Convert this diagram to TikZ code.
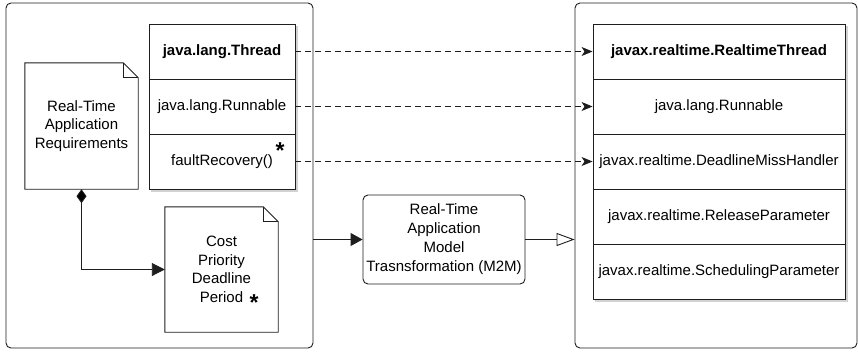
\documentclass[tikz,border=0pt]{standalone}
\usepackage{fontspec}
\setmainfont{Liberation Sans}
\usetikzlibrary{arrows.meta,shadows,fit,backgrounds}
\definecolor{lc}{HTML}{1E1E1E}
\tikzset{
  txt/.style={font=\fontsize{15}{18.5}\selectfont, align=center, text=black},
  comp/.style={txt, draw=lc, fill=white, line width=0.9pt, minimum height=55pt, inner sep=0pt},
  lcomp/.style={comp, minimum width=146pt},
  rcomp/.style={comp, minimum width=252pt},
  container/.style={draw=lc, line width=0.9pt, rounded corners=5pt, inner sep=0pt},
  notebox/.style={txt, inner sep=0pt, minimum width=113pt},
  notepath/.style={draw=lc, line width=0.9pt, fill=white},
  conn/.style={draw=lc, line width=0.9pt},
  dashconn/.style={conn, dash pattern=on 6pt off 4pt, -{Stealth[length=11pt,width=9pt,inset=3pt]}},
  shadowbox/.style={inner sep=0pt, fill=white, drop shadow={shadow xshift=2.5pt, shadow yshift=-2.5pt, opacity=0.35}},
  startxt/.style={font=\fontsize{23}{23}\selectfont\bfseries, inner sep=0pt}
}
\begin{document}
\begin{tikzpicture}[x=1pt,y=-1pt]
\begin{scope}[on background layer]
\fill[white] (0,0) rectangle (858,351);
\end{scope}
\useasboundingbox (0,0) rectangle (858,351);
% containers
\node[container, minimum width=307pt, minimum height=345pt] (leftc) at (159.5,175.5) {};
\node[container, minimum width=282pt, minimum height=345pt] (rightc) at (716,175.5) {};
% left class box
\node[lcomp] (t1) at (222,51.5) {\textbf{java.lang.Thread}};
\node[lcomp] (t2) at (222,106.5) {java.lang.Runnable};
\node[lcomp] (t3) at (222,161.5) {\raisebox{-2pt}{faultRecovery()}};
\node[startxt] (star1) at (280,151) {*};
% right class box
\node[rcomp] (r1) at (719,51.5) {\textbf{javax.realtime.RealtimeThread}};
\node[rcomp] (r2) at (719,106.5) {java.lang.Runnable};
\node[rcomp] (r3) at (719,161.5) {javax.realtime.DeadlineMissHandler};
\node[rcomp] (r4) at (719,216.5) {javax.realtime.ReleaseParameter};
\node[rcomp] (r5) at (719,271.5) {javax.realtime.SchedulingParameter};
% shadows
\begin{scope}[on background layer]
\node[shadowbox, fit=(t1)(t3)] (lshadow) {};
\node[shadowbox, fit=(r1)(r5)] (rshadow) {};
\end{scope}
% notes
\node[notebox, minimum height=126pt] (req) at (81.5,126) {Real-Time\\Application\\Requirements};
\begin{scope}[on background layer]
\path[notepath] (req.north west) -- ([xshift=-15pt]req.north east) -- ([yshift=-15pt]req.north east) -- (req.south east) -- (req.south west) -- cycle;
\end{scope}
\draw[conn] ([xshift=-15pt]req.north east) -- ([xshift=-15pt,yshift=-15pt]req.north east) -- ([yshift=-15pt]req.north east);
\node[notebox, minimum height=125pt] (par) at (221.5,269.5) {Cost\\Priority\\Deadline\\Period};
\begin{scope}[on background layer]
\path[notepath] (par.north west) -- ([xshift=-15pt]par.north east) -- ([yshift=-15pt]par.north east) -- (par.south east) -- (par.south west) -- cycle;
\end{scope}
\draw[conn] ([xshift=-15pt]par.north east) -- ([xshift=-15pt,yshift=-15pt]par.north east) -- ([yshift=-15pt]par.north east);
\node[startxt] (star2) at (254,303) {*};
% transformation
\node[txt, draw=lc, line width=0.9pt, rounded corners=5pt, minimum width=162pt, minimum height=89pt, inner sep=0pt, font=\fontsize{15}{19}\selectfont] (trans) at (444,239.5) {Real-Time\\Application\\Model\\Trasnsformation (M2M)};
% connectors
\draw[dashconn] (t1.east) -- (r1.west);
\draw[dashconn] (t2.east) -- (r2.west);
\draw[dashconn] (t3.east) -- (r3.west);
\draw[conn, {Diamond[length=14pt,width=10pt,fill=black]}-{Triangle[length=13pt,width=13pt]}] (req.south) |- (par.west);
\draw[conn, -{Triangle[length=12pt,width=13pt]}] (leftc.east |- trans.west) -- (trans.west);
\draw[conn, -{Triangle[open,length=18pt,width=13pt,fill=white]}] (trans.east) -- (rightc.west |- trans.east);
\end{tikzpicture}
\end{document}
